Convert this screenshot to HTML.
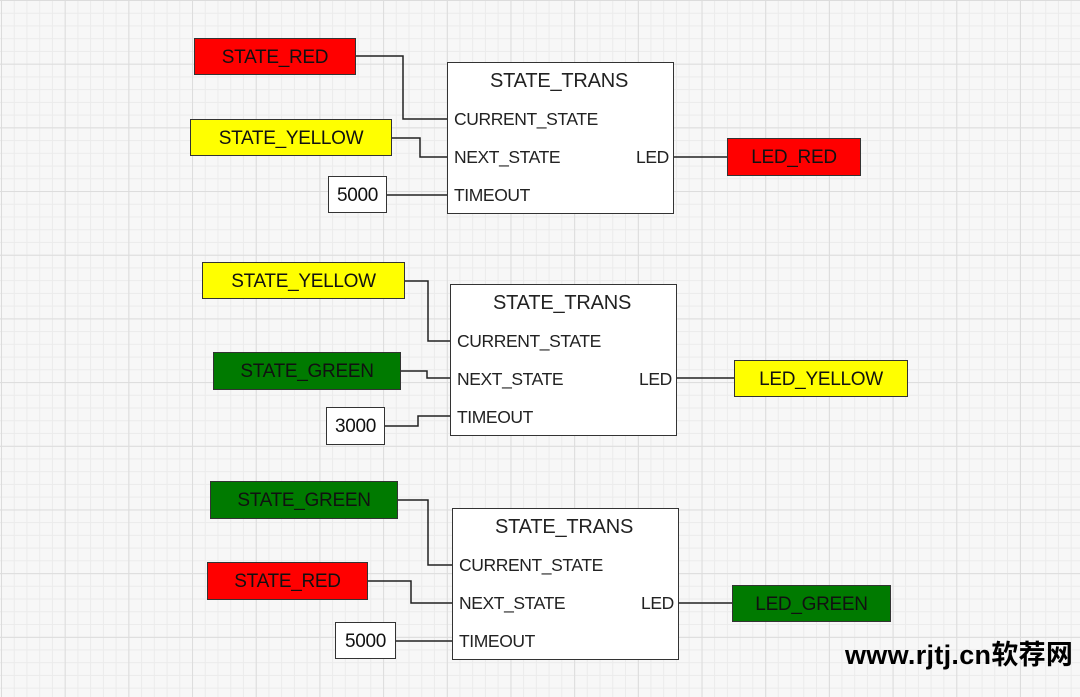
<!DOCTYPE html>
<html><head><meta charset="utf-8"><style>
html,body{margin:0;padding:0}
body{width:1080px;height:697px;position:relative;overflow:hidden;background-color:#f7f7f7;
background-image:linear-gradient(to right,#dcdcdc 1px,transparent 1px),linear-gradient(to bottom,#dcdcdc 1px,transparent 1px),linear-gradient(to right,#ebebeb 1px,transparent 1px),linear-gradient(to bottom,#ebebeb 1px,transparent 1px);
background-size:63.7px 63.7px,63.7px 63.7px,12.74px 12.74px,12.74px 12.74px;background-position:1px 0,0 0,1px 0,0 0;
font-family:"Liberation Sans",sans-serif;}
.b{position:absolute;box-sizing:border-box;border:1.5px solid #333;display:flex;align-items:center;justify-content:center;font-size:19px;color:#111;letter-spacing:-0.3px;padding-top:2px}
.r{background:#ff0000}.y{background:#ffff00}.g{background:#007a00}.w{background:#fff}
.fb{position:absolute;box-sizing:border-box;border:1.5px solid #333;background:#fff}
.t{position:absolute;font-size:17.5px;color:#222;white-space:nowrap;letter-spacing:-0.4px}
svg{position:absolute;left:0;top:0}
.wm{position:absolute;left:845px;top:633px;font-size:27px;font-weight:bold;color:#000;font-family:"Liberation Sans","Noto Sans CJK SC",sans-serif;letter-spacing:0.3px}
</style></head><body>
<svg width="1080" height="697"><g stroke="#222" stroke-width="1.5" fill="none">
<polyline points="356,56 403,56 403,119 447,119"/>
<polyline points="392,138 420,138 420,157 447,157"/>
<polyline points="387,195 447,195"/>
<polyline points="674,157 727,157"/>
<polyline points="405,281 428,281 428,341 450,341"/>
<polyline points="401,371 427,371 427,378 450,378"/>
<polyline points="385,426 418,426 418,416 450,416"/>
<polyline points="677,378 734,378"/>
<polyline points="398,500 428,500 428,565 452,565"/>
<polyline points="368,581 411,581 411,603 452,603"/>
<polyline points="396,641 452,641"/>
<polyline points="679,603 732,603"/>
</g></svg>

<div class="b r" style="left:194px;top:38px;width:162px;height:37px">STATE_RED</div>
<div class="b y" style="left:190px;top:119px;width:202px;height:37px">STATE_YELLOW</div>
<div class="b w" style="left:328px;top:176px;width:59px;height:37px">5000</div>
<div class="fb" style="left:447px;top:62px;width:227px;height:152px"></div>
<div class="t" style="left:490px;top:70px;font-size:20px;letter-spacing:-0.2px">STATE_TRANS</div>
<div class="t" style="left:454px;top:109px">CURRENT_STATE</div>
<div class="t" style="left:454px;top:147px">NEXT_STATE</div>
<div class="t" style="left:454px;top:185px">TIMEOUT</div>
<div class="t" style="left:636px;top:147px">LED</div>
<div class="b r" style="left:727px;top:138px;width:134px;height:38px">LED_RED</div>

<div class="b y" style="left:202px;top:262px;width:203px;height:37px">STATE_YELLOW</div>
<div class="b g" style="left:213px;top:352px;width:188px;height:38px">STATE_GREEN</div>
<div class="b w" style="left:326px;top:407px;width:59px;height:38px">3000</div>
<div class="fb" style="left:450px;top:284px;width:227px;height:152px"></div>
<div class="t" style="left:493px;top:292px;font-size:20px;letter-spacing:-0.2px">STATE_TRANS</div>
<div class="t" style="left:457px;top:331px">CURRENT_STATE</div>
<div class="t" style="left:457px;top:369px">NEXT_STATE</div>
<div class="t" style="left:457px;top:407px">TIMEOUT</div>
<div class="t" style="left:639px;top:369px">LED</div>
<div class="b y" style="left:734px;top:360px;width:174px;height:37px">LED_YELLOW</div>

<div class="b g" style="left:210px;top:481px;width:188px;height:38px">STATE_GREEN</div>
<div class="b r" style="left:207px;top:562px;width:161px;height:38px">STATE_RED</div>
<div class="b w" style="left:335px;top:622px;width:61px;height:37px">5000</div>
<div class="fb" style="left:452px;top:508px;width:227px;height:152px"></div>
<div class="t" style="left:495px;top:516px;font-size:20px;letter-spacing:-0.2px">STATE_TRANS</div>
<div class="t" style="left:459px;top:555px">CURRENT_STATE</div>
<div class="t" style="left:459px;top:593px">NEXT_STATE</div>
<div class="t" style="left:459px;top:631px">TIMEOUT</div>
<div class="t" style="left:641px;top:593px">LED</div>
<div class="b g" style="left:732px;top:585px;width:159px;height:37px">LED_GREEN</div>

<div class="wm">www.rjtj.cn软荐网</div>
</body></html>
